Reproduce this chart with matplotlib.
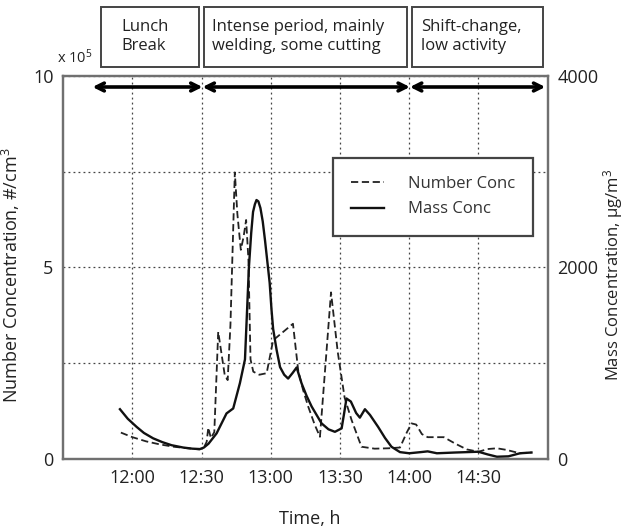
import numpy as np
import matplotlib.pyplot as plt
import matplotlib.dates as mdates
import matplotlib.transforms as mtransforms
from matplotlib.patches import Rectangle
from datetime import datetime, timedelta

plt.rcParams['font.family'] = ['Open Sans', 'DejaVu Sans']
plt.rcParams['mathtext.fontset'] = 'custom'
plt.rcParams['mathtext.rm'] = 'Open Sans'

# time axis: minutes after 11:30
start = datetime(2000, 1, 1, 11, 30)

# number concentration (x 10^5 #/cm3), dashed
num_t = [25, 30, 36, 42, 48, 54, 59, 61, 62.2, 62.9, 64, 65.5, 67.2, 68.5, 70, 71.3,
         72.5, 74.4, 75.5, 77, 78.2, 79.3, 80.3, 81.2, 82.4, 85, 88.2, 91, 99.6,
         101.9, 104, 106.2, 109, 111.3, 116.1, 119, 122, 125, 129.3, 135, 141, 146,
         149, 151, 153, 155.5, 158, 165, 170, 175, 180, 184, 188, 192, 198, 203]
num_v = [0.69, 0.57, 0.46, 0.38, 0.32, 0.28, 0.25, 0.3, 0.45, 0.82, 0.55, 0.7, 3.32, 2.8, 2.2, 2.06,
         3.5, 7.48, 6.4, 5.46, 5.8, 6.24, 5.2, 2.6, 2.28, 2.2, 2.24, 3.1, 3.53,
         2.3, 1.8, 1.37, 0.9, 0.58, 4.35, 2.8, 1.6, 1.02, 0.32, 0.27, 0.28, 0.3,
         0.7, 0.93, 0.9, 0.65, 0.57, 0.57, 0.4, 0.25, 0.19, 0.26, 0.28, 0.24, 0.15, 0.17]

# mass concentration (ug/m3), solid
mass_t = [24.6, 28, 31.8, 35, 39, 43, 47, 52, 56, 59.3, 61, 63, 66.5, 70.8, 73.7, 76.6,
          78.8, 80.5, 81.5, 82.3, 83.1, 83.8, 84.6, 85.5, 86.5, 87.5, 88.5, 89.5, 90.3,
          91, 92.5, 94, 95.8, 97.5, 99.5, 101.2, 103.3, 105.5,
          107.7, 112, 115, 117.8, 120.7, 121.8, 122.8, 124.7, 127, 128.6, 130.8, 133,
          136.5, 139.5, 142.3, 146, 150, 155, 158, 162, 170, 180, 184, 188, 193, 198, 203]
mass_v = [520, 420, 336, 272, 216, 176, 144, 120, 108, 104, 120, 160, 268, 476, 528, 792,
          1040, 2000, 2360, 2580, 2660, 2704, 2690, 2620, 2480, 2280, 2060, 1840, 1560,
          1360, 1140, 960, 880, 840, 900, 956, 792, 660,
          548, 372, 310, 284, 320, 480, 632, 600, 480, 432, 520, 460,
          336, 220, 128, 72, 60, 72, 80, 60, 68, 76, 48, 24, 28, 60, 68]

# activity periods (minutes after 11:30)
period_edges = [12.7, 60.4, 150.3, 209]
period_labels = ['Lunch\nBreak', 'Intense period, mainly\nwelding, some cutting',
                 'Shift-change,\nlow activity']


def tm(m):
    return mdates.date2num([start + timedelta(minutes=float(x)) for x in np.atleast_1d(m)])


fig = plt.figure(figsize=(6.32, 5.27), dpi=100)
ax = fig.add_axes([0.100, 0.129, 0.7665, 0.727])
ax2 = ax.twinx()

l1, = ax.plot(tm(num_t), num_v, color='#222222', lw=1.3, ls=(0, (4, 2)), label='Number Conc')
l2, = ax2.plot(tm(mass_t), mass_v, color='#111111', lw=1.7, label='Mass Conc')

ax.set_xlim(tm(0)[0], tm(210)[0])
ax.set_ylim(0, 10)
ax2.set_ylim(0, 4000)
ax.set_xticks(tm([30, 60, 90, 120, 150, 180]))
ax.xaxis.set_major_formatter(mdates.DateFormatter('%H:%M'))
ax.set_yticks([0, 2.5, 5, 7.5, 10])
ax.set_yticklabels(['0', '', '5', '', '10'])
ax2.set_yticks([0, 2000, 4000])

ax.grid(True, color='#444444', ls=(0, (1.5, 2.5)), lw=0.9)
for a in (ax, ax2):
    for s in a.spines.values():
        s.set_color('#707070')
        s.set_linewidth(1.6)
    a.tick_params(length=0, labelsize=13, colors='#222222', pad=7)

ax.set_xlabel('Time, h', fontsize=13, color='#222222')
ax.xaxis.set_label_coords(0.509, -0.133)
ax.set_ylabel(r'Number Concentration, #/cm$\mathregular{^3}$', fontsize=13, color='#222222')
ax.yaxis.set_label_coords(-0.085, 0.48)
ax2.set_ylabel(r'Mass Concentration, μg/m$\mathregular{^3}$', fontsize=12, color='#222222',
               rotation=90, va='center')
ax2.yaxis.set_label_coords(1.136, 0.48)

ax.text(-0.0136, 1.034, r'x 10$\mathregular{^5}$', transform=ax.transAxes,
        fontsize=10.5, color='#222222', ha='left', va='baseline')

# period arrows
for a0, a1 in zip(period_edges[:-1], period_edges[1:]):
    ax.annotate('', xy=(tm(a1)[0], 9.71), xytext=(tm(a0)[0], 9.71),
                arrowprops=dict(arrowstyle='<->', lw=2.6, color='black',
                                shrinkA=0, shrinkB=0, mutation_scale=14))

# period boxes above the axes
trans = mtransforms.blended_transform_factory(ax.transData, ax.transAxes)
box_l = [16.2, 61.0, 151.1]
box_r = [58.8, 148.9, 208.0]
text_x = [25.4, 64.5, 155.1]
for bl, br, tx, lab in zip(box_l, box_r, text_x, period_labels):
    ax.add_patch(Rectangle((tm(bl)[0], 1.0235), tm(br)[0] - tm(bl)[0], 0.157,
                           transform=trans, clip_on=False, fill=False,
                           edgecolor='#444444', lw=1.4))
    ax.text(tm(tx)[0], 1.103, lab, transform=trans, ha='left', va='center',
            fontsize=12, color='#222222', linespacing=1.3)

leg = ax2.legend([l1, l2], ['Number Conc', 'Mass Conc'], loc='upper right',
                 bbox_to_anchor=(0.970, 0.786), fontsize=12, fancybox=False,
                 handlelength=2.0, handletextpad=1.4, labelspacing=0.55,
                 borderpad=1.1, borderaxespad=0, framealpha=1)
leg.get_frame().set_edgecolor('#444444')
leg.get_frame().set_linewidth(1.6)
for t in leg.get_texts():
    t.set_color('#333333')

fig.savefig('out.png', dpi=100)
